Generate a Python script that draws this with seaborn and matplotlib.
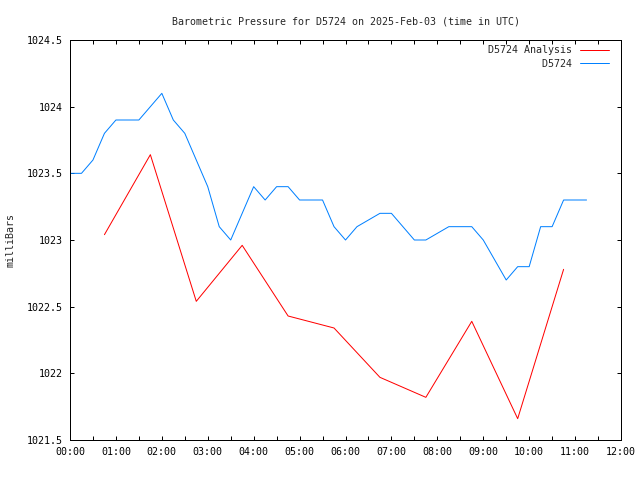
import numpy as np
import pandas as pd
import seaborn as sns
import matplotlib.pyplot as plt
from matplotlib.ticker import MultipleLocator

# station observations, every 15 minutes
obs_times = [
    "00:00", "00:15", "00:30", "00:45", "01:00", "01:15", "01:30", "01:45",
    "02:00", "02:15", "02:30", "02:45", "03:00", "03:15", "03:30", "03:45",
    "04:00", "04:15", "04:30", "04:45", "05:00", "05:15", "05:30", "05:45",
    "06:00", "06:15", "06:30", "06:45", "07:00", "07:15", "07:30", "07:45",
    "08:00", "08:15", "08:30", "08:45", "09:00", "09:15", "09:30", "09:45",
    "10:00", "10:15", "10:30", "10:45", "11:00", "11:15",
]
obs_pressure = [
    1023.5, 1023.5, 1023.6, 1023.8, 1023.9, 1023.9, 1023.9, 1024.0,
    1024.1, 1023.9, 1023.8, 1023.6, 1023.4, 1023.1, 1023.0, 1023.2,
    1023.4, 1023.3, 1023.4, 1023.4, 1023.3, 1023.3, 1023.3, 1023.1,
    1023.0, 1023.1, 1023.15, 1023.2, 1023.2, 1023.1, 1023.0, 1023.0,
    1023.05, 1023.1, 1023.1, 1023.1, 1023.0, 1022.85, 1022.7, 1022.8,
    1022.8, 1023.1, 1023.1, 1023.3, 1023.3, 1023.3,
]

# hourly analysis values
ana_times = ["00:45", "01:45", "02:45", "03:45", "04:45", "05:45",
             "06:45", "07:45", "08:45", "09:45", "10:45"]
ana_pressure = [1023.04, 1023.64, 1022.54, 1022.96, 1022.43, 1022.34,
                1021.97, 1021.82, 1022.39, 1021.66, 1022.78]

xtick_labels = ["%02d:00" % h for h in range(13)]
ytick_labels = ["1021.5", "1022", "1022.5", "1023", "1023.5", "1024", "1024.5"]
series_names = ["D5724 Analysis", "D5724"]
series_colors = ["#ff0000", "#0080ff"]


def to_hours(times):
    return [int(t[:2]) + int(t[3:]) / 60 for t in times]


df = pd.concat([
    pd.DataFrame({"hour": to_hours(ana_times), "mb": ana_pressure,
                  "series": series_names[0]}),
    pd.DataFrame({"hour": to_hours(obs_times), "mb": obs_pressure,
                  "series": series_names[1]}),
], ignore_index=True)

sns.set_theme(style="white")
plt.rcParams["font.family"] = ["DejaVu Sans Mono"]
plt.rcParams["font.size"] = 7.2
plt.rcParams["lines.linewidth"] = 0.72

fig = plt.figure(figsize=(6.4, 4.8), dpi=100)
ax = fig.add_axes([70 / 640, 40 / 480, 551 / 640, 400 / 480])

sns.lineplot(data=df, x="hour", y="mb", hue="series",
             hue_order=series_names, palette=series_colors,
             estimator=None, linewidth=0.72, ax=ax)
for line in ax.lines:
    line.set_linewidth(0.72)

ax.set_xlim(0, 12)
ax.set_ylim(1021.5, 1024.5)
ax.set_xticks(range(13))
ax.set_xticklabels(xtick_labels)
ax.xaxis.set_minor_locator(MultipleLocator(0.5))
ax.set_yticks(np.arange(1021.5, 1024.51, 0.5))
ax.set_yticklabels(ytick_labels)
ax.tick_params(which="both", direction="in", length=3, width=0.72,
               top=True, right=True, bottom=True, left=True,
               colors="black", labelsize=7.2, pad=5)
ax.tick_params(axis="y", which="minor", length=0)
for s in ax.spines.values():
    s.set_color("black")
    s.set_linewidth(0.72)

ax.set_xlabel("")
ax.set_ylabel("milliBars", fontsize=7.2, labelpad=8)
ax.set_title("Barometric Pressure for D5724 on 2025-Feb-03 (time in UTC)",
             fontsize=7.2, pad=11)

# monospace font: pad labels on the left so they sit right-aligned
handles, labels = ax.get_legend_handles_labels()
width = max(len(l) for l in labels)
leg = ax.legend(handles, [l.rjust(width) for l in labels],
                loc="upper right", bbox_to_anchor=(1 - 6 / 551, 1 + 1 / 400),
                frameon=False, markerfirst=False,
                fontsize=7.2, handlelength=2.9, handletextpad=0.8,
                labelspacing=0.35, borderaxespad=0.25)
for line in leg.get_lines():
    line.set_linewidth(0.72)

fig.savefig("out.png", dpi=100)
